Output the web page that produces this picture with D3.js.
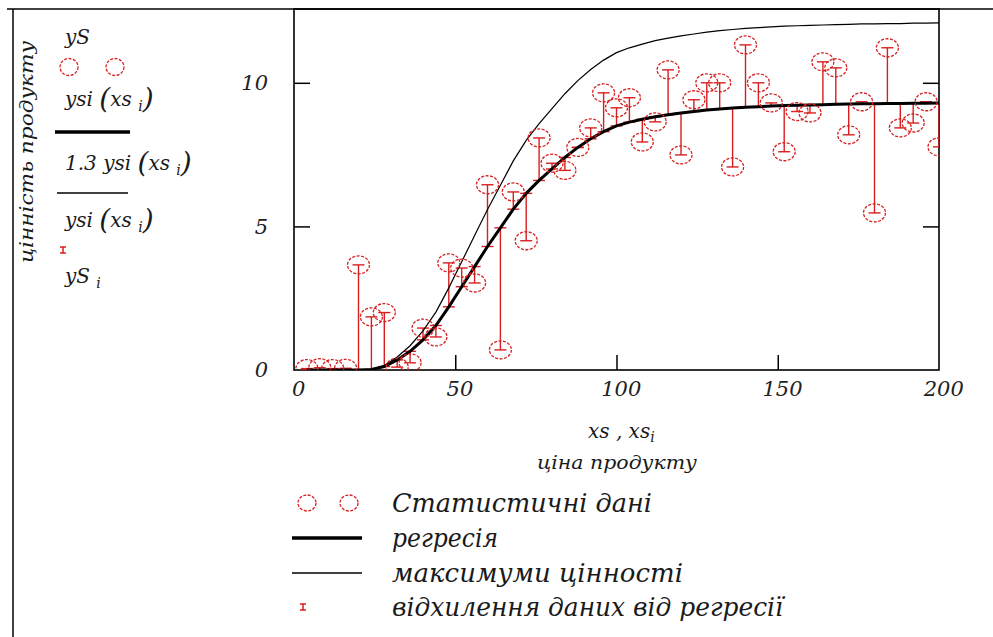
<!DOCTYPE html>
<html lang="uk">
<head>
    <meta charset="utf-8">
    <style>
        body { margin: 0; background: #fff; }
        svg { display: block; }
        .lbl { font-family: "DejaVu Serif", "Liberation Serif", serif; font-style: italic; fill: #1a1a1a; }
        .tick text { font-family: "DejaVu Serif", "Liberation Serif", serif; font-style: italic; font-size: 21px; fill: #222; }
        .tick line { stroke: #000; stroke-width: 1.5; }
    </style>
</head>
<body>
<svg id="mainSVG" width="993" height="637"></svg>
<script src="https://cdn.jsdelivr.net/npm/d3@7"></script>
<script>

    // x positions of the statistic points (price)
    var xs = [4, 8, 12, 16, 20, 24, 28, 32, 36, 40, 44, 48, 52, 56, 60, 64, 68, 72, 76, 80,
        84, 88, 92, 96, 100, 104, 108, 112, 116, 120, 124, 128, 132, 136, 140, 144, 148, 152, 156, 160,
        164, 168, 172, 176, 180, 184, 188, 192, 196, 200];

    // statistic data yS
    var yS = [0.05, 0.08, 0.05, 0.06, 3.66, 1.85, 2.0, 0.1, 0.25, 1.46, 1.15, 3.73, 3.55, 3.03, 6.45, 0.7, 6.2, 4.5, 8.08, 7.2,
        6.95, 7.75, 8.43, 9.65, 9.13, 9.48, 7.94, 8.64, 10.45, 7.49, 9.41, 10.0, 10.0, 7.07, 11.32, 10.0, 9.3, 7.6, 9.0, 8.95,
        10.73, 10.52, 8.19, 9.34, 5.47, 11.22, 8.43, 8.6, 9.34, 7.77];

    // regression ysi(xs_i)
    var ysi = [0, 0, 0, 0, 0, 0.02, 0.12, 0.35, 0.65, 1.05, 1.55, 2.2, 2.9, 3.6, 4.3, 4.95, 5.6, 6.15, 6.6, 7.0,
        7.4, 7.75, 8.05, 8.3, 8.5, 8.63, 8.73, 8.82, 8.89, 8.95, 9.0, 9.05, 9.09, 9.12, 9.15, 9.17, 9.19, 9.21, 9.22, 9.23,
        9.24, 9.25, 9.26, 9.27, 9.27, 9.28, 9.28, 9.29, 9.29, 9.3];

    var maxFactor = 1.3;
    var xTicks = [0, 50, 100, 150, 200];
    var yTicks = [0, 5, 10];
    var legendNames = ["Статистичні дані", "регресія", "максимуми  цінності", "відхилення даних від регресії"];

    var red = "#d81e1e";
    var svg = d3.select("svg");

    var x = d3.scaleLinear().domain([0, 200]).range([294, 939]);
    var y = d3.scaleLinear().domain([0, 12.57]).range([370, 9]);

    svg.append("defs").append("clipPath").attr("id", "plotClip")
        .append("rect").attr("x", 294).attr("y", 9).attr("width", 645).attr("height", 361);

    // frame
    svg.append("line").attr("x1", 7).attr("x2", 993).attr("y1", 9).attr("y2", 9).attr("stroke", "#000").attr("stroke-width", 1.5);
    svg.append("line").attr("x1", 13).attr("x2", 13).attr("y1", 9).attr("y2", 637).attr("stroke", "#000").attr("stroke-width", 1.5);

    // axes
    var gx = svg.append("g").attr("transform", "translate(0,370)")
        .call(d3.axisBottom(x).tickValues(xTicks).tickSize(-15).tickPadding(11).tickFormat(d3.format("d")));
    var gy = svg.append("g").attr("transform", "translate(294,0)")
        .call(d3.axisLeft(y).tickValues(yTicks).tickSize(-16).tickPadding(26).tickFormat(d3.format("d")));
    var gr = svg.append("g").attr("transform", "translate(939,0)")
        .call(d3.axisRight(y).tickValues(yTicks).tickSize(-16).tickFormat(""));
    gx.selectAll(".tick").filter(function (d) { return d == 0 || d == 200; }).select("line").remove();
    gy.selectAll(".tick").filter(function (d) { return d == 0; }).select("line").remove();
    gr.selectAll(".tick").filter(function (d) { return d == 0; }).select("line").remove();
    gx.selectAll(".tick text").attr("dx", "0.2em");
    [gx, gy, gr].forEach(function (g) { g.select(".domain").remove(); });

    svg.append("rect").attr("x", 294).attr("y", 9).attr("width", 645).attr("height", 361)
        .attr("fill", "none").attr("stroke", "#000").attr("stroke-width", 1.6);

    var plot = svg.append("g").attr("clip-path", "url(#plotClip)");

    var idx = d3.range(xs.length);

    // error bars between regression and data
    var capW = 6;
    var bars = plot.append("g").attr("stroke", red).attr("stroke-width", 1.4);
    bars.selectAll(".stem").data(idx).enter().append("line")
        .attr("x1", function (i) { return x(xs[i]); })
        .attr("x2", function (i) { return x(xs[i]); })
        .attr("y1", function (i) { return y(ysi[i]); })
        .attr("y2", function (i) { return y(yS[i]); });
    bars.selectAll(".capA").data(idx).enter().append("line")
        .attr("x1", function (i) { return x(xs[i]) - capW; })
        .attr("x2", function (i) { return x(xs[i]) + capW; })
        .attr("y1", function (i) { return y(ysi[i]); })
        .attr("y2", function (i) { return y(ysi[i]); });
    bars.selectAll(".capB").data(idx).enter().append("line")
        .attr("x1", function (i) { return x(xs[i]) - capW; })
        .attr("x2", function (i) { return x(xs[i]) + capW; })
        .attr("y1", function (i) { return y(yS[i]); })
        .attr("y2", function (i) { return y(yS[i]); });

    // regression and max lines
    var regLine = d3.line().x(function (i) { return x(xs[i]); }).y(function (i) { return y(ysi[i]); });
    var maxLine = d3.line().x(function (i) { return x(xs[i]); }).y(function (i) { return y(maxFactor * ysi[i]); });
    plot.append("path").datum(idx).attr("d", maxLine).attr("fill", "none").attr("stroke", "#000").attr("stroke-width", 1.2);
    plot.append("path").datum(idx).attr("d", regLine).attr("fill", "none").attr("stroke", "#000").attr("stroke-width", 3);

    // data circles
    plot.append("g").selectAll("ellipse").data(idx).enter().append("ellipse")
        .attr("cx", function (i) { return x(xs[i]); })
        .attr("cy", function (i) { return y(yS[i]); })
        .attr("rx", 11).attr("ry", 9)
        .attr("fill", "none").attr("stroke", red).attr("stroke-width", 1.3)
        .attr("stroke-dasharray", "3,1.5");

    // axis titles
    var xt = svg.append("text").attr("class", "lbl").attr("x", 588).attr("y", 438).attr("font-size", 20);
    xt.append("tspan").text("xs , xs");
    xt.append("tspan").attr("dy", 4).attr("font-size", 14).text("i");
    svg.append("text").attr("class", "lbl").attr("x", 617).attr("y", 469).attr("font-size", 19)
        .attr("text-anchor", "middle").attr("textLength", 160).attr("lengthAdjust", "spacingAndGlyphs")
        .text("ціна продукту");

    svg.append("text").attr("class", "lbl").attr("font-size", 19)
        .attr("transform", "translate(33,152) rotate(-90)").attr("text-anchor", "middle")
        .attr("textLength", 222).attr("lengthAdjust", "spacingAndGlyphs")
        .text("цінність продукту");

    // left legend (y axis expressions)
    function expr(yy, pre) {
        var t = svg.append("text").attr("class", "lbl").attr("x", 65).attr("y", yy).attr("font-size", 20);
        t.append("tspan").text(pre + "ysi ");
        t.append("tspan").attr("font-size", 28).attr("dy", 2).text("(");
        t.append("tspan").attr("dy", -2).text("xs ");
        t.append("tspan").attr("font-size", 14).attr("dy", 5).text("i");
        t.append("tspan").attr("font-size", 28).attr("dy", -3).text(")");
    }
    svg.append("text").attr("class", "lbl").attr("x", 65).attr("y", 44).attr("font-size", 20).text("yS");
    [69, 115].forEach(function (cx) {
        svg.append("ellipse").attr("cx", cx).attr("cy", 67).attr("rx", 9).attr("ry", 8.5)
            .attr("fill", "none").attr("stroke", red).attr("stroke-width", 1.3).attr("stroke-dasharray", "3,1.5");
    });
    expr(106, "");
    svg.append("line").attr("x1", 55).attr("x2", 130).attr("y1", 132).attr("y2", 132).attr("stroke", "#000").attr("stroke-width", 3.5);
    expr(170, "1.3  ");
    svg.append("line").attr("x1", 57).attr("x2", 128).attr("y1", 193).attr("y2", 193).attr("stroke", "#000").attr("stroke-width", 1.3);
    expr(227, "");
    errSymbol(63, 250);
    var ys = svg.append("text").attr("class", "lbl").attr("x", 65).attr("y", 283).attr("font-size", 20);
    ys.append("tspan").text("yS ");
    ys.append("tspan").attr("font-size", 14).attr("dy", 5).text("i");

    function errSymbol(cx, cy) {
        var g = svg.append("g").attr("stroke", red).attr("stroke-width", 1.5);
        g.append("line").attr("x1", cx).attr("x2", cx).attr("y1", cy - 3).attr("y2", cy + 3);
        g.append("line").attr("x1", cx - 3).attr("x2", cx + 3).attr("y1", cy - 3).attr("y2", cy - 3);
        g.append("line").attr("x1", cx - 3).attr("x2", cx + 3).attr("y1", cy + 3).attr("y2", cy + 3);
    }

    // bottom legend
    var legY = [503, 538, 573, 607];
    var legW = [260, 106, 291, 391];
    [307, 349].forEach(function (cx) {
        svg.append("ellipse").attr("cx", cx).attr("cy", legY[0]).attr("rx", 9).attr("ry", 8)
            .attr("fill", "none").attr("stroke", red).attr("stroke-width", 1.3).attr("stroke-dasharray", "3,1.5");
    });
    svg.append("line").attr("x1", 292).attr("x2", 362).attr("y1", legY[1]).attr("y2", legY[1]).attr("stroke", "#000").attr("stroke-width", 3.5);
    svg.append("line").attr("x1", 292).attr("x2", 362).attr("y1", legY[2]).attr("y2", legY[2]).attr("stroke", "#000").attr("stroke-width", 1.3);
    errSymbol(303, legY[3]);

    svg.selectAll(".legtext").data(legendNames).enter().append("text")
        .attr("class", "lbl")
        .attr("x", 392)
        .attr("y", function (d, i) { return legY[i] + 9; })
        .attr("font-size", 26)
        .attr("textLength", function (d, i) { return legW[i]; })
        .attr("lengthAdjust", "spacingAndGlyphs")
        .text(function (d) { return d; });

</script>
</body>
</html>
